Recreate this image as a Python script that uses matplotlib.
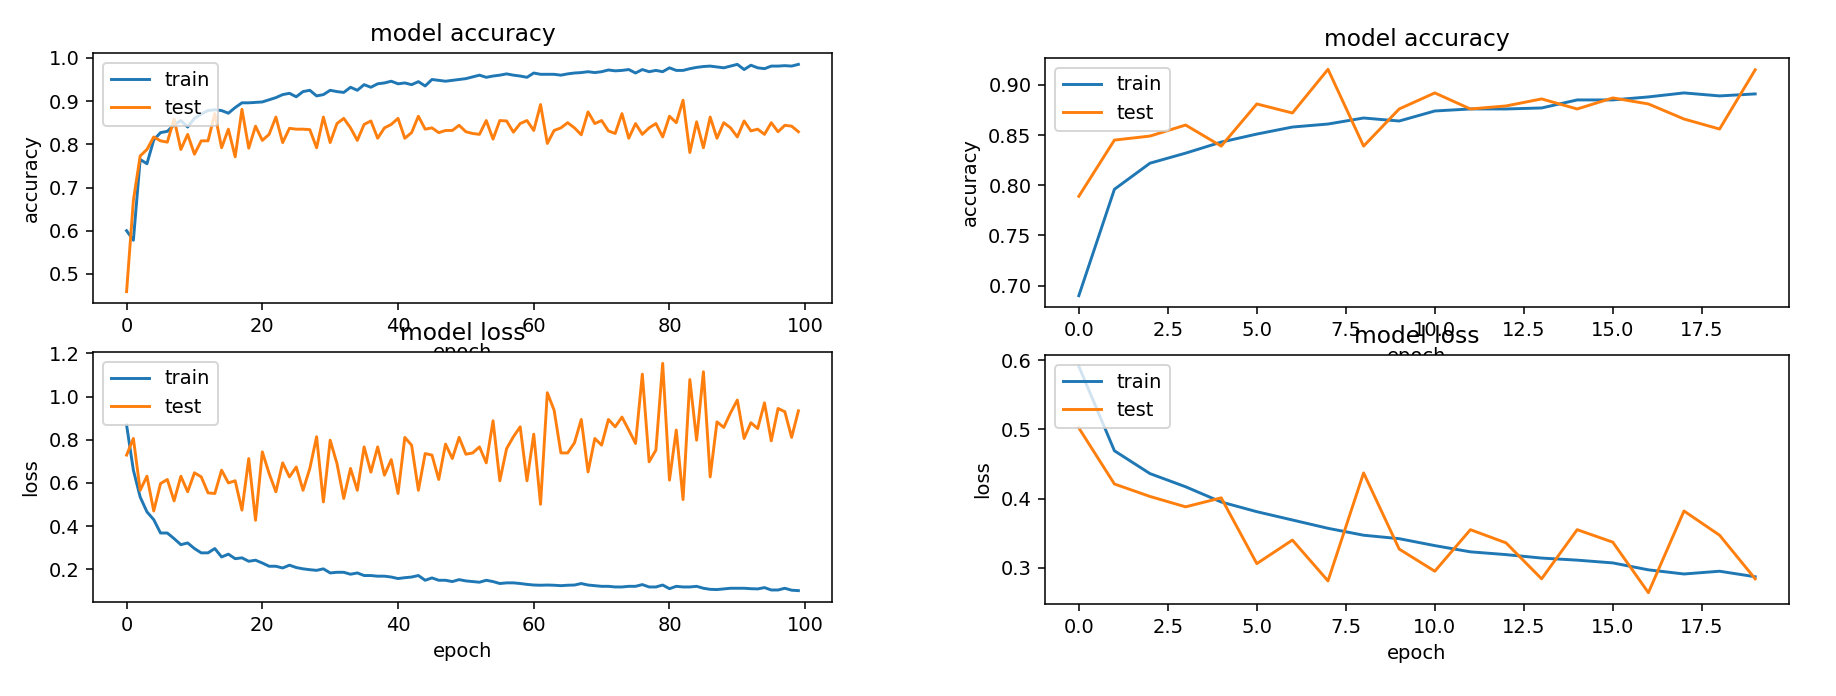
import numpy as np
import matplotlib
matplotlib.use("Agg")
import matplotlib.pyplot as plt

# left run: 100 epochs
acc_train_100 = [0.600, 0.578, 0.765, 0.755, 0.810, 0.827, 0.830, 0.845, 0.855, 0.840,
                 0.860, 0.870, 0.878, 0.880, 0.878, 0.872, 0.885, 0.896, 0.896, 0.897,
                 0.898, 0.903, 0.908, 0.915, 0.918, 0.910, 0.922, 0.925, 0.912, 0.915,
                 0.925, 0.922, 0.920, 0.932, 0.925, 0.938, 0.932, 0.940, 0.942, 0.946,
                 0.940, 0.942, 0.938, 0.945, 0.935, 0.950, 0.948, 0.946, 0.948, 0.950,
                 0.952, 0.956, 0.960, 0.955, 0.958, 0.960, 0.963, 0.960, 0.958, 0.955,
                 0.965, 0.962, 0.962, 0.962, 0.960, 0.963, 0.965, 0.966, 0.968, 0.966,
                 0.968, 0.972, 0.970, 0.971, 0.973, 0.965, 0.973, 0.968, 0.971, 0.968,
                 0.977, 0.971, 0.971, 0.975, 0.978, 0.980, 0.981, 0.979, 0.977, 0.981,
                 0.985, 0.973, 0.983, 0.977, 0.975, 0.981, 0.981, 0.982, 0.981, 0.985]
acc_test_100 = [0.459, 0.670, 0.773, 0.788, 0.817, 0.808, 0.805, 0.858, 0.788, 0.823,
                0.777, 0.808, 0.808, 0.871, 0.792, 0.835, 0.771, 0.881, 0.791, 0.842,
                0.809, 0.823, 0.863, 0.804, 0.837, 0.835, 0.835, 0.834, 0.792, 0.863,
                0.804, 0.848, 0.860, 0.838, 0.809, 0.846, 0.854, 0.814, 0.838, 0.846,
                0.860, 0.814, 0.827, 0.865, 0.835, 0.838, 0.827, 0.832, 0.832, 0.844,
                0.829, 0.825, 0.823, 0.855, 0.812, 0.855, 0.854, 0.828, 0.848, 0.855,
                0.832, 0.892, 0.802, 0.832, 0.838, 0.850, 0.838, 0.822, 0.875, 0.848,
                0.855, 0.831, 0.825, 0.871, 0.814, 0.848, 0.823, 0.838, 0.848, 0.817,
                0.865, 0.850, 0.902, 0.781, 0.852, 0.792, 0.863, 0.814, 0.850, 0.838,
                0.817, 0.854, 0.831, 0.835, 0.823, 0.850, 0.829, 0.844, 0.842, 0.829]
loss_train_100 = [0.868, 0.659, 0.535, 0.466, 0.430, 0.368, 0.368, 0.342, 0.314, 0.322,
                  0.296, 0.276, 0.276, 0.296, 0.257, 0.270, 0.249, 0.253, 0.237, 0.242,
                  0.229, 0.214, 0.214, 0.206, 0.219, 0.208, 0.202, 0.198, 0.195, 0.202,
                  0.183, 0.186, 0.186, 0.177, 0.183, 0.171, 0.171, 0.168, 0.168, 0.164,
                  0.157, 0.161, 0.164, 0.171, 0.149, 0.160, 0.149, 0.149, 0.143, 0.152,
                  0.146, 0.143, 0.140, 0.149, 0.143, 0.134, 0.137, 0.137, 0.134, 0.130,
                  0.127, 0.126, 0.127, 0.126, 0.124, 0.126, 0.127, 0.134, 0.127, 0.124,
                  0.121, 0.121, 0.118, 0.118, 0.121, 0.121, 0.129, 0.118, 0.118, 0.127,
                  0.110, 0.121, 0.118, 0.118, 0.121, 0.112, 0.107, 0.106, 0.109, 0.112,
                  0.112, 0.112, 0.110, 0.109, 0.115, 0.104, 0.104, 0.112, 0.103, 0.101]
loss_test_100 = [0.729, 0.806, 0.566, 0.631, 0.470, 0.597, 0.616, 0.517, 0.631, 0.559,
                 0.647, 0.628, 0.554, 0.551, 0.659, 0.600, 0.610, 0.474, 0.713, 0.427,
                 0.744, 0.644, 0.559, 0.693, 0.628, 0.674, 0.566, 0.667, 0.814, 0.512,
                 0.798, 0.690, 0.528, 0.667, 0.566, 0.767, 0.650, 0.767, 0.636, 0.708,
                 0.551, 0.811, 0.775, 0.566, 0.736, 0.729, 0.616, 0.780, 0.713, 0.811,
                 0.733, 0.739, 0.767, 0.693, 0.888, 0.610, 0.759, 0.814, 0.860, 0.610,
                 0.826, 0.501, 1.018, 0.937, 0.739, 0.739, 0.786, 0.894, 0.651, 0.806,
                 0.775, 0.894, 0.860, 0.905, 0.845, 0.783, 1.104, 0.698, 0.752, 1.154,
                 0.613, 0.845, 0.523, 1.079, 0.798, 1.115, 0.628, 0.883, 0.857, 0.925,
                 0.984, 0.806, 0.879, 0.852, 0.971, 0.795, 0.945, 0.930, 0.811, 0.934]

# right run: 20 epochs
acc_train_20 = [0.690, 0.796, 0.822, 0.832, 0.843, 0.851, 0.858, 0.861, 0.867, 0.864,
                0.874, 0.876, 0.876, 0.877, 0.885, 0.885, 0.888, 0.892, 0.889, 0.891]
acc_test_20 = [0.789, 0.845, 0.849, 0.860, 0.839, 0.881, 0.872, 0.9155, 0.839, 0.876,
               0.892, 0.876, 0.879, 0.886, 0.876, 0.887, 0.881, 0.866, 0.856, 0.915]
loss_train_20 = [0.591, 0.469, 0.436, 0.417, 0.395, 0.381, 0.369, 0.357, 0.347, 0.342,
                 0.332, 0.323, 0.319, 0.314, 0.311, 0.307, 0.297, 0.291, 0.295, 0.287]
loss_test_20 = [0.502, 0.421, 0.403, 0.388, 0.401, 0.306, 0.340, 0.281, 0.437, 0.327,
                0.295, 0.355, 0.336, 0.284, 0.355, 0.337, 0.264, 0.382, 0.347, 0.284]

DPI = 140
W, H = 1836, 696
fig = plt.figure(figsize=(W / DPI, H / DPI), dpi=DPI)


def box(x0, y0, x1, y1):
    # pixel box -> figure fraction
    return [x0 / W, 1 - y1 / H, (x1 - x0) / W, (y1 - y0) / H]


panels = [
    (box(93, 53, 832, 303), acc_train_100, acc_test_100, "model accuracy", "accuracy"),
    (box(93, 352, 832, 602), loss_train_100, loss_test_100, "model loss", "loss"),
    (box(1045, 58, 1789, 307), acc_train_20, acc_test_20, "model accuracy", "accuracy"),
    (box(1045, 355, 1789, 604), loss_train_20, loss_test_20, "model loss", "loss"),
]

for rect, tr, te, title, ylab in panels:
    ax = fig.add_axes(rect)
    ax.plot(tr)
    ax.plot(te)
    ax.set_title(title)
    ax.set_ylabel(ylab)
    ax.set_xlabel("epoch")
    ax.legend(["train", "test"], loc="upper left")

fig.savefig("out.png", dpi=DPI)
